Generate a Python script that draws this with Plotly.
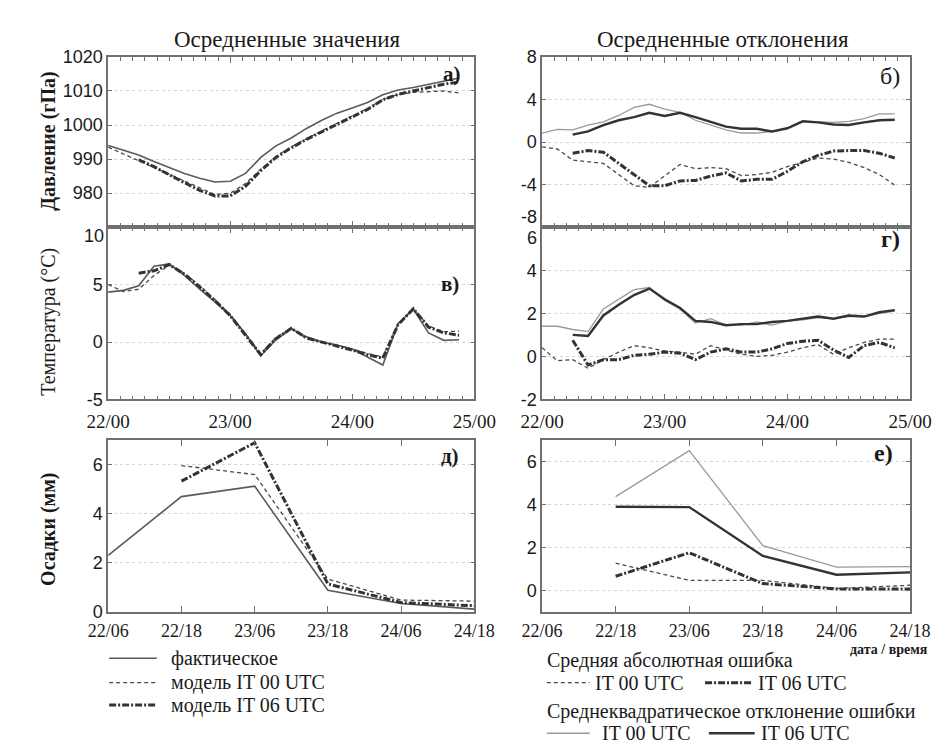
import plotly.graph_objects as go

W, H = 946, 744

# ---------------- data ----------------
HOURS = [0, 3, 6, 9, 12, 15, 18, 21, 24, 27, 30, 33, 36, 39, 42, 45, 48, 51, 54, 57, 60, 63, 66, 69]
DAY_TICKS = [0, 24, 48, 72]
DAY_LABELS = ["22/00", "23/00", "24/00", "25/00"]

# а) pressure, hPa
P_FACT = [994.0, 992.7, 991.2, 989.3, 987.6, 985.8, 984.4, 983.3, 983.5, 985.8, 990.5, 993.9,
          996.2, 999.0, 1001.4, 1003.5, 1005.0, 1006.6, 1008.9, 1010.3, 1011.0, 1012.0, 1013.0, 1013.8]
P_IT00 = [993.5, 991.5, 989.6, 987.6, 985.6, 983.6, 981.5, 979.6, 980.0, 982.8, 987.0, 990.8,
          993.6, 996.0, 998.3, 1000.5, 1002.6, 1004.8, 1007.5, 1009.0, 1009.6, 1009.9, 1010.0, 1009.4]
P_IT06 = [None, None, 989.8, 987.8, 985.4, 983.0, 980.8, 979.2, 979.2, 982.0, 986.6, 990.5,
          993.3, 995.8, 998.0, 1000.3, 1002.5, 1004.6, 1007.4, 1009.0, 1010.0, 1011.0, 1012.0, 1012.6]
P_TICKS = [980, 990, 1000, 1010, 1020]

# б) pressure errors
PB_MAE00 = [-0.45, -0.65, -1.7, -1.85, -2.0, -3.05, -4.1, -4.25, -3.2, -2.1, -2.5, -2.4,
            -2.5, -3.15, -3.05, -2.85, -2.3, -1.9, -1.5, -1.6, -1.9, -2.4, -3.05, -4.05]
PB_MAE06 = [None, None, -1.05, -0.8, -0.95, -2.0, -3.05, -4.1, -4.1, -3.65, -3.6, -3.2,
            -2.9, -3.65, -3.5, -3.5, -2.75, -1.85, -1.25, -0.85, -0.8, -0.8, -1.05, -1.5]
PB_RMSE00 = [0.84, 1.2, 1.15, 1.6, 1.9, 2.5, 3.25, 3.55, 3.1, 2.8, 2.05, 1.6,
             1.15, 0.85, 0.85, 1.0, 1.3, 1.95, 1.9, 1.85, 1.95, 2.2, 2.65, 2.65]
PB_RMSE06 = [None, None, 0.7, 1.0, 1.6, 2.05, 2.35, 2.75, 2.45, 2.75, 2.35, 1.9,
             1.45, 1.25, 1.25, 1.0, 1.3, 1.95, 1.85, 1.65, 1.6, 1.85, 2.05, 2.1]
PB_TICKS = [-8, -4, 0, 4, 8]

# в) temperature, °C
T_FACT = [4.35, 4.5, 4.9, 6.6, 6.8, 5.8, 4.6, 3.5, 2.3, 0.7, -1.2, 0.2,
          1.15, 0.45, 0.0, -0.25, -0.6, -1.3, -2.0, 1.6, 2.85, 0.8, 0.15, 0.2]
T_IT00 = [5.0, 4.4, 4.6, 5.8, 6.7, 6.0, 4.9, 3.7, 2.4, 0.7, -1.0, 0.4,
          1.2, 0.3, 0.0, -0.3, -0.6, -1.0, -1.3, 1.6, 2.9, 1.4, 0.9, 0.95]
T_IT06 = [None, None, 6.0, 6.2, 6.75, 5.9, 4.8, 3.6, 2.3, 0.6, -1.1, 0.3,
          1.2, 0.35, 0.0, -0.3, -0.7, -1.1, -1.4, 1.5, 2.9, 1.3, 0.8, 0.6]
T_TICKS = [-5, 0, 5, 10]

# г) temperature errors
TB_MAE00 = [0.4, -0.2, -0.15, -0.55, -0.15, 0.2, 0.5, 0.4, 0.25, 0.2, 0.1, 0.5,
            0.3, 0.1, 0.0, 0.05, 0.2, 0.4, 0.55, 0.1, 0.4, 0.65, 0.8, 0.8]
TB_MAE06 = [None, None, 0.75, -0.4, -0.15, -0.15, 0.05, 0.1, 0.2, 0.15, -0.15, 0.2,
            0.35, 0.2, 0.2, 0.35, 0.6, 0.7, 0.75, 0.3, -0.05, 0.5, 0.65, 0.4]
TB_RMSE00 = [1.4, 1.4, 1.25, 1.15, 2.2, 2.65, 3.1, 3.2, 2.6, 2.2, 1.55, 1.75,
             1.45, 1.45, 1.6, 1.45, 1.65, 1.7, 1.8, 1.75, 1.85, 1.85, 2.0, 2.1]
TB_RMSE06 = [None, None, 1.0, 0.95, 1.9, 2.4, 2.85, 3.15, 2.65, 2.25, 1.65, 1.6,
             1.45, 1.5, 1.5, 1.6, 1.65, 1.75, 1.85, 1.75, 1.9, 1.85, 2.05, 2.15]
TB_TICKS = [-2, 0, 2, 4, 6]

# д) precipitation, mm
PR_HOURS = [6, 18, 30, 42, 54, 66]
PR_LABELS = ["22/06", "22/18", "23/06", "23/18", "24/06", "24/18"]
PR_FACT = [2.3, 4.7, 5.13, 0.87, 0.33, 0.1]
PR_IT00 = [None, 5.97, 5.6, 1.33, 0.47, 0.43]
PR_IT06 = [None, 5.33, 6.9, 1.13, 0.37, 0.24]
PR_TICKS = [0, 2, 4, 6]

# е) precipitation errors
PRB_MAE00 = [None, 1.26, 0.46, 0.46, 0.08, 0.23]
PRB_MAE06 = [None, 0.65, 1.75, 0.31, 0.06, 0.06]
PRB_RMSE00 = [None, 4.37, 6.52, 2.08, 1.08, 1.1]
PRB_RMSE06 = [None, 3.9, 3.88, 1.6, 0.72, 0.83]

# ---------------- styles ----------------
SERIF = "Liberation Serif, Times New Roman, DejaVu Serif, serif"
SANS = "Liberation Sans, Arial, sans-serif"
FRAME = "#707070"
GRID = "#d4d4d4"
TXT = "#1a1a1a"

ST_FACT = dict(color="#5a5a5a", width=1.6, dash="solid")
ST_M00 = dict(color="#4a4a4a", width=1.3, dash="4px,3px")
ST_M06 = dict(color="#333333", width=3.0, dash="7px,2px,2px,2px")
ST_R00 = dict(color="#9a9a9a", width=1.3, dash="solid")
ST_R06 = dict(color="#333333", width=2.4, dash="solid")


def px(x):
    return x / W


def py(y):
    return 1 - y / H


COLS = [(82, 466), (537, 923)]
ROWS = [(40, 215), (215, 392), (434, 610)]

fig = go.Figure()


def add(xs, ys, style, axis):
    fig.add_trace(go.Scatter(x=xs, y=ys, mode="lines", line=style, showlegend=False,
                             connectgaps=False, xaxis="x" + axis, yaxis="y" + axis,
                             hoverinfo="skip"))


# а
add(HOURS, P_FACT, ST_FACT, "")
add(HOURS, P_IT00, ST_M00, "")
add(HOURS, P_IT06, ST_M06, "")
# б
add(HOURS, PB_RMSE00, ST_R00, "2")
add(HOURS, PB_RMSE06, ST_R06, "2")
add(HOURS, PB_MAE00, ST_M00, "2")
add(HOURS, PB_MAE06, ST_M06, "2")
# в
add(HOURS, T_FACT, ST_FACT, "3")
add(HOURS, T_IT00, ST_M00, "3")
add(HOURS, T_IT06, ST_M06, "3")
# г
add(HOURS, TB_RMSE00, ST_R00, "4")
add(HOURS, TB_RMSE06, ST_R06, "4")
add(HOURS, TB_MAE00, ST_M00, "4")
add(HOURS, TB_MAE06, ST_M06, "4")
# д
add(PR_HOURS, PR_FACT, ST_FACT, "5")
add(PR_HOURS, PR_IT00, ST_M00, "5")
add(PR_HOURS, PR_IT06, ST_M06, "5")
# е
add(PR_HOURS, PRB_RMSE00, ST_R00, "6")
add(PR_HOURS, PRB_RMSE06, ST_R06, "6")
add(PR_HOURS, PRB_MAE00, ST_M00, "6")
add(PR_HOURS, PRB_MAE06, ST_M06, "6")


def xaxis(col, anchor, labels, daily=True):
    d = dict(domain=[px(COLS[col][0]), px(COLS[col][1])], anchor=anchor,
             showline=True, linecolor=FRAME, linewidth=1.5, mirror="ticks",
             ticks="inside", ticklen=6, tickcolor=FRAME, tickwidth=1.2,
             showgrid=False, zeroline=False, showticklabels=labels,
             tickfont=dict(family=SERIF, size=19, color=TXT), ticklabelstandoff=4)
    if daily:
        d.update(range=[0, 72], tickmode="array", tickvals=DAY_TICKS, ticktext=DAY_LABELS,
                 minor=dict(dtick=2.4, tick0=0, ticklen=4, tickcolor=FRAME, ticks="inside",
                            tickwidth=1, showgrid=False))
    else:
        d.update(range=[6, 66], tickmode="array", tickvals=PR_HOURS, ticktext=PR_LABELS,
                 tickfont=dict(family=SERIF, size=18, color=TXT), ticklabelstandoff=2)
    return d


def yaxis(row, anchor, rng, vals, hide=()):
    return dict(domain=[py(ROWS[row][1]), py(ROWS[row][0])], anchor=anchor, range=rng,
                tickmode="array", tickvals=vals,
                ticktext=["" if v in hide else str(v) for v in vals],
                showline=True, linecolor=FRAME, linewidth=1.5, mirror="ticks",
                ticks="inside", ticklen=4, tickcolor=FRAME,
                showgrid=True, gridcolor=GRID, griddash="dot", gridwidth=1,
                zeroline=False, tickfont=dict(family=SANS, size=18, color=TXT))


fig.update_layout(
    width=W, height=H, margin=dict(l=0, r=0, t=0, b=0),
    paper_bgcolor="white", plot_bgcolor="white", showlegend=False,
    xaxis=xaxis(0, "y", False), yaxis=yaxis(0, "x", [970, 1020], P_TICKS),
    xaxis2=xaxis(1, "y2", False), yaxis2=yaxis(0, "x2", [-8, 8], PB_TICKS, hide=(-8,)),
    xaxis3=xaxis(0, "y3", True), yaxis3=yaxis(1, "x3", [-5, 10], T_TICKS, hide=(10,)),
    xaxis4=xaxis(1, "y4", True), yaxis4=yaxis(1, "x4", [-2, 6], TB_TICKS, hide=(6,)),
    xaxis5=xaxis(0, "y5", True, daily=False), yaxis5=yaxis(2, "x5", [0, 7], PR_TICKS),
    xaxis6=xaxis(1, "y6", True, daily=False), yaxis6=yaxis(2, "x6", [-1, 7], PR_TICKS),
)

ann = []


def text(x, y, s, size=20, bold=False, xanchor="left", angle=0, family=SERIF, color=TXT):
    ann.append(dict(x=px(x), y=py(y), xref="paper", yref="paper",
                    text=("<b>%s</b>" % s) if bold else s,
                    showarrow=False, xanchor=xanchor, yanchor="middle", textangle=angle,
                    font=dict(family=family, size=size, color=color), borderpad=0))


# boundary tick labels, nudged off the shared panel edge as in the original
text(79, 224, "10", size=18, xanchor="right", family=SANS)
text(533, 205, "-8", size=18, xanchor="right", family=SANS)
text(533, 226, "6", size=18, xanchor="right", family=SANS)

# column titles
text(270, 22, "Осредненные значения", size=23, xanchor="center")
text(727, 22, "Осредненные отклонения", size=23, xanchor="center")

# y axis titles
text(20, 127, "Давление (гПа)", size=20, bold=True, xanchor="center", angle=-90)
text(20, 312, "Температура (°C)", size=20, xanchor="center", angle=-90)
text(20, 526, "Осадки (мм)", size=20, bold=True, xanchor="center", angle=-90)

# panel labels
text(453, 58, "а)", size=21, bold=True, xanchor="right")
text(913, 60, "б)", size=24, xanchor="right")
text(451, 273, "в)", size=21, bold=True, xanchor="right")
text(913, 227, "г)", size=24, bold=True, xanchor="right")
text(451, 450, "д)", size=21, bold=True, xanchor="right")
text(906, 447, "е)", size=24, bold=True, xanchor="right")

text(943, 649, "дата / время", size=14, bold=True, xanchor="right")

# legends
shapes = []


def sample(x0, x1, y, style):
    shapes.append(dict(type="line", xref="paper", yref="paper", x0=px(x0), x1=px(x1),
                       y0=py(y), y1=py(y), line=style))


sample(83, 133, 658, ST_FACT)
text(147, 658, "фактическое")
sample(83, 133, 683, ST_M00)
text(147, 683, "модель IT 00 UTC")
sample(83, 133, 706, ST_M06)
text(147, 706, "модель IT 06 UTC")

text(541, 660, "Средняя абсолютная ошибка")
sample(542, 587, 683, ST_M00)
text(591, 683, "IT 00 UTC")
sample(708, 757, 683, ST_M06)
text(762, 683, "IT 06 UTC")
text(541, 713, "Среднеквадратическое отклонение ошибки")
sample(542, 587, 735, ST_R00)
text(599, 735, "IT 00 UTC")
sample(712, 760, 735, ST_R06)
text(766, 735, "IT 06 UTC")

fig.update_layout(annotations=ann, shapes=shapes)

fig.write_html("out.html")
